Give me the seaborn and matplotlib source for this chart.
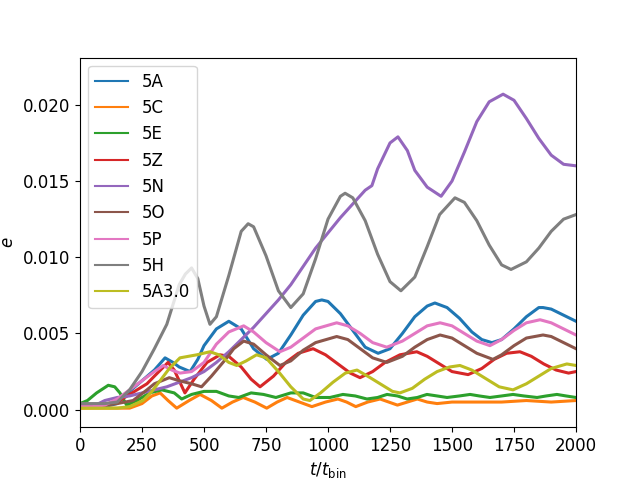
import numpy as np
import pandas as pd
import matplotlib
matplotlib.use("Agg")
import matplotlib.pyplot as plt
import seaborn as sns

# ---------------- datos ----------------
t_5A = [0, 50, 100, 150, 200, 250, 300, 343, 375, 400, 444, 475, 500, 550, 600, 650, 700, 753,
        800, 850, 900, 950, 975, 1000, 1050, 1100, 1150, 1202, 1250, 1300, 1350, 1400, 1431,
        1480, 1530, 1580, 1620, 1661, 1700, 1750, 1800, 1850, 1867, 1900, 1950, 2000]
e_5A = [0.0002, 0.0002, 0.0002, 0.0004, 0.0012, 0.0019, 0.0026, 0.0034, 0.0031, 0.0028, 0.0025,
        0.0033, 0.0042, 0.0053, 0.0058, 0.0053, 0.0040, 0.0033, 0.0037, 0.0049, 0.0062, 0.0071,
        0.0072, 0.0071, 0.0063, 0.0052, 0.0041, 0.0037, 0.0040, 0.0050, 0.0061, 0.0068, 0.0070,
        0.0067, 0.0060, 0.0051, 0.0046, 0.0044, 0.0046, 0.0053, 0.0061, 0.0067, 0.0067, 0.0066,
        0.0062, 0.0058]

t_5C = [0, 100, 200, 250, 290, 323, 355, 390, 440, 484, 530, 572, 615, 658, 705, 753, 795, 835,
        885, 935, 990, 1040, 1075, 1112, 1160, 1210, 1245, 1280, 1320, 1360, 1400, 1440, 1500,
        1600, 1700, 1800, 1900, 2000]
e_5C = [0.0001, 0.0001, 0.0001, 0.0004, 0.0009, 0.0011, 0.0006, 0.0001, 0.0006, 0.0010, 0.0006,
        0.0001, 0.0005, 0.0008, 0.0005, 0.0001, 0.0005, 0.0008, 0.0005, 0.0002, 0.0005, 0.0007,
        0.0005, 0.0002, 0.0005, 0.0007, 0.0005, 0.0003, 0.0005, 0.0007, 0.0005, 0.0004, 0.0005,
        0.0005, 0.0005, 0.0006, 0.0005, 0.0006]

t_5E = [0, 30, 67, 114, 140, 161, 188, 230, 280, 330, 380, 410, 450, 500, 550, 600, 640, 690,
        740, 790, 850, 900, 950, 1008, 1060, 1110, 1157, 1200, 1238, 1280, 1319, 1360, 1399,
        1440, 1480, 1530, 1573, 1610, 1653, 1700, 1746, 1790, 1843, 1880, 1923, 1960, 2000]
e_5E = [0.0004, 0.0006, 0.0011, 0.0016, 0.0015, 0.0011, 0.0003, 0.0006, 0.0011, 0.0013, 0.0011,
        0.0007, 0.0010, 0.0012, 0.0012, 0.0009, 0.0008, 0.0011, 0.0010, 0.0008, 0.0011, 0.0011,
        0.0008, 0.0008, 0.0010, 0.0009, 0.0007, 0.0008, 0.0010, 0.0009, 0.0007, 0.0008, 0.0010,
        0.0009, 0.0008, 0.0009, 0.0010, 0.0009, 0.0008, 0.0009, 0.0010, 0.0009, 0.0008, 0.0009,
        0.0010, 0.0009, 0.0008]

t_5Z = [0, 50, 100, 150, 200, 270, 300, 355, 380, 423, 460, 512, 565, 600, 650, 690, 726, 780,
        830, 880, 940, 990, 1040, 1090, 1129, 1180, 1230, 1290, 1358, 1400, 1450, 1500, 1565,
        1620, 1670, 1720, 1774, 1820, 1870, 1920, 1970, 2000]
e_5Z = [0.0003, 0.0003, 0.0003, 0.0005, 0.0010, 0.0017, 0.0022, 0.0031, 0.0026, 0.0011, 0.0020,
        0.0031, 0.0036, 0.0035, 0.0028, 0.0020, 0.0015, 0.0022, 0.0031, 0.0037, 0.0040, 0.0036,
        0.0030, 0.0024, 0.0021, 0.0025, 0.0031, 0.0036, 0.0038, 0.0035, 0.0030, 0.0025, 0.0023,
        0.0027, 0.0033, 0.0037, 0.0038, 0.0035, 0.0030, 0.0026, 0.0024, 0.0025]

t_5N = [0, 50, 100, 150, 200, 250, 300, 350, 400, 450, 500, 550, 600, 650, 700, 750, 800, 850,
        900, 950, 1000, 1050, 1100, 1150, 1177, 1200, 1250, 1282, 1320, 1350, 1400, 1456, 1500,
        1550, 1600, 1650, 1706, 1750, 1800, 1850, 1900, 1950, 2000]
e_5N = [0.0002, 0.0002, 0.0006, 0.0008, 0.0009, 0.0011, 0.0013, 0.0015, 0.0018, 0.0021, 0.0025,
        0.0031, 0.0038, 0.0046, 0.0054, 0.0063, 0.0072, 0.0082, 0.0094, 0.0106, 0.0116, 0.0126,
        0.0135, 0.0144, 0.0147, 0.0158, 0.0175, 0.0179, 0.0170, 0.0157, 0.0146, 0.0140, 0.0150,
        0.0169, 0.0189, 0.0202, 0.0207, 0.0203, 0.0191, 0.0178, 0.0167, 0.0161, 0.0160]

t_5O = [0, 50, 100, 150, 214, 270, 300, 360, 400, 450, 490, 530, 592, 620, 660, 700, 750, 806,
        850, 900, 950, 1035, 1080, 1130, 1180, 1237, 1300, 1350, 1400, 1452, 1500, 1550, 1600,
        1665, 1700, 1750, 1800, 1867, 1900, 1950, 2000]
e_5O = [0.0003, 0.0003, 0.0003, 0.0004, 0.0006, 0.0013, 0.0017, 0.0021, 0.0019, 0.0017, 0.0015,
        0.0022, 0.0034, 0.0040, 0.0045, 0.0043, 0.0036, 0.0029, 0.0032, 0.0039, 0.0044, 0.0048,
        0.0046, 0.0040, 0.0034, 0.0031, 0.0035, 0.0041, 0.0046, 0.0049, 0.0047, 0.0042, 0.0037,
        0.0033, 0.0036, 0.0042, 0.0047, 0.0049, 0.0048, 0.0044, 0.0040]

t_5P = [0, 50, 100, 150, 200, 250, 300, 336, 370, 403, 450, 500, 550, 600, 660, 700, 750, 806,
        850, 900, 950, 1035, 1080, 1130, 1180, 1237, 1300, 1350, 1400, 1452, 1500, 1550, 1600,
        1653, 1700, 1750, 1800, 1855, 1900, 1950, 2000]
e_5P = [0.0002, 0.0002, 0.0003, 0.0007, 0.0013, 0.0019, 0.0025, 0.0029, 0.0026, 0.0024, 0.0025,
        0.0031, 0.0043, 0.0051, 0.0055, 0.0051, 0.0044, 0.0038, 0.0041, 0.0047, 0.0053, 0.0057,
        0.0055, 0.0050, 0.0044, 0.0041, 0.0045, 0.0050, 0.0055, 0.0057, 0.0055, 0.0050, 0.0045,
        0.0042, 0.0046, 0.0052, 0.0057, 0.0059, 0.0057, 0.0053, 0.0049]

t_5H = [0, 50, 100, 150, 200, 250, 300, 350, 400, 425, 450, 475, 500, 524, 550, 600, 650, 678,
        700, 750, 800, 850, 900, 950, 1000, 1050, 1069, 1100, 1150, 1200, 1250, 1294, 1350, 1400,
        1450, 1512, 1550, 1600, 1650, 1700, 1738, 1800, 1850, 1900, 1950, 2000]
e_5H = [0.0004, 0.0004, 0.0004, 0.0005, 0.0013, 0.0025, 0.0040, 0.0056, 0.0082, 0.0089, 0.0093,
        0.0086, 0.0068, 0.0056, 0.0061, 0.0088, 0.0117, 0.0122, 0.0120, 0.0101, 0.0078, 0.0067,
        0.0076, 0.0099, 0.0125, 0.0140, 0.0142, 0.0139, 0.0124, 0.0102, 0.0084, 0.0078, 0.0087,
        0.0107, 0.0128, 0.0139, 0.0136, 0.0124, 0.0108, 0.0095, 0.0092, 0.0097, 0.0106, 0.0117,
        0.0125, 0.0128]

t_5A3 = [0, 50, 100, 150, 200, 254, 290, 323, 360, 403, 471, 524, 560, 600, 632, 670, 712, 750,
         800, 850, 900, 927, 970, 1020, 1070, 1117, 1170, 1220, 1260, 1290, 1340, 1390, 1440,
         1490, 1532, 1580, 1630, 1690, 1746, 1800, 1850, 1900, 1963, 2000]
e_5A3 = [0.0001, 0.0001, 0.0001, 0.0001, 0.0002, 0.0006, 0.0012, 0.0019, 0.0027, 0.0034, 0.0036,
         0.0038, 0.0036, 0.0031, 0.0029, 0.0032, 0.0036, 0.0034, 0.0025, 0.0015, 0.0007, 0.0006,
         0.0011, 0.0018, 0.0024, 0.0026, 0.0021, 0.0016, 0.0012, 0.0011, 0.0014, 0.0020, 0.0025,
         0.0028, 0.0029, 0.0026, 0.0021, 0.0015, 0.0013, 0.0017, 0.0022, 0.0027, 0.0030, 0.0029]

etiquetas = ['5A', '5C', '5E', '5Z', '5N', '5O', '5P', '5H', '5A3.0']
series_t = [t_5A, t_5C, t_5E, t_5Z, t_5N, t_5O, t_5P, t_5H, t_5A3]
series_e = [e_5A, e_5C, e_5E, e_5Z, e_5N, e_5O, e_5P, e_5H, e_5A3]

# ---------------- grafico ----------------
plt.rcParams['font.size'] = 12
colores = sns.color_palette('tab10', 9)

fig, ax = plt.subplots(figsize=(6.4, 4.8), dpi=100)

for lab, tt, ee, c in zip(etiquetas, series_t, series_e, colores):
    df = pd.DataFrame({'t': tt, 'e': ee})
    sns.lineplot(data=df, x='t', y='e', ax=ax, color=c, linewidth=2.2, label=lab,
                 sort=False, estimator=None)

ax.set_xlim(0, 2000)
ax.set_ylim(-0.00115, 0.0231)
ax.set_xlabel(r'$t/t_{\rm bin}$')
ax.set_ylabel(r'$e$')

leg = ax.legend(loc='upper left')
for linea in leg.get_lines():
    linea.set_linewidth(1.5)

fig.savefig('out.png', dpi=100)
